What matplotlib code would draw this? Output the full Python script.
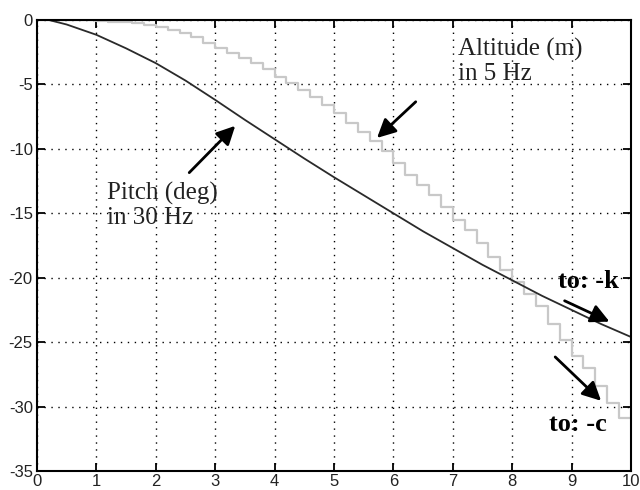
import matplotlib.pyplot as plt
import numpy as np

plt.rcParams['axes.unicode_minus'] = False

# pitch (deg), 30 Hz signal read at a few points
pitch_t = [0.2, 0.5, 0.75, 1, 1.5, 2, 2.5, 3, 3.5, 4, 4.5, 5, 5.5, 6, 6.5, 7, 7.5, 8, 8.5, 9, 9.5, 10]
pitch = [0, -0.35, -0.75, -1.15, -2.2, -3.35, -4.7, -6.2, -7.75, -9.25, -10.75, -12.2, -13.6,
         -15.0, -16.4, -17.7, -19.0, -20.2, -21.4, -22.5, -23.6, -24.6]

# altitude (m), 5 Hz samples
alt_t = np.arange(0, 10.01, 0.2)
alt = [0, 0, 0, 0, 0, -0.05, -0.12, -0.18, -0.25, -0.4,
       -0.55, -0.75, -1.0, -1.35, -1.75, -2.15, -2.55, -2.95, -3.35, -3.8,
       -4.4, -4.9, -5.4, -6.0, -6.6, -7.2, -8.0, -8.7, -9.4, -10.2,
       -11.1, -12.0, -12.8, -13.6, -14.5, -15.5, -16.3, -17.3, -18.4, -19.4,
       -20.3, -21.3, -22.2, -23.6, -24.8, -26.1, -27.0, -28.4, -29.7, -30.9,
       -30.9]

xticks = list(range(0, 11))
yticks = list(range(-35, 1, 5))

fig = plt.figure(figsize=(6.4, 4.9), dpi=100)
ax = fig.add_axes([37/640, 19/490, 594/640, 451/490])

ax.step(alt_t, alt, where='post', color='#c8c8c8', lw=1.6)
ax.plot(pitch_t, pitch, color='#2a2a2a', lw=1.3)

ax.set_xlim(0, 10)
ax.set_ylim(-35, 0)
ax.set_xticks(xticks)
ax.set_yticks(yticks)
ax.grid(True, color='black', linestyle=(0, (1, 4)), lw=1.0)
ax.tick_params(direction='in', top=True, right=True, length=6, width=1.3,
               labelsize=12, labelcolor='#222222')
ax.tick_params(axis='x', pad=2)
ax.tick_params(axis='y', pad=3)
for lab in ax.get_xticklabels() + ax.get_yticklabels():
    lab.set_family('Liberation Sans')
for s in ax.spines.values():
    s.set_linewidth(1.5)

serif = dict(family='Liberation Serif', fontsize=18, color='#222222')
bold = dict(family='Liberation Serif', fontsize=19, fontweight='bold', color='black')
arrow = dict(arrowstyle='-|>', mutation_scale=28, lw=2, color='black')

ax.text(7.09, -1.4, 'Altitude (m)\nin 5 Hz', va='top', ha='left', linespacing=1.12, **serif)
ax.annotate('', xy=(5.69, -9.3), xytext=(6.41, -6.2), arrowprops=arrow)

ax.text(1.18, -12.6, 'Pitch (deg)\nin 30 Hz', va='top', ha='left', linespacing=1.12, **serif)
ax.annotate('', xy=(3.37, -8.06), xytext=(2.53, -12.0), arrowprops=arrow)

ax.text(8.77, -20.3, 'to: -k', va='center', ha='left', **bold)
ax.annotate('', xy=(9.68, -23.5), xytext=(8.84, -21.7), arrowprops=arrow)

ax.text(8.62, -31.4, 'to: -c', va='center', ha='left', **bold)
ax.annotate('', xy=(9.53, -29.7), xytext=(8.69, -26.0), arrowprops=arrow)

fig.savefig('out.png', dpi=100)
